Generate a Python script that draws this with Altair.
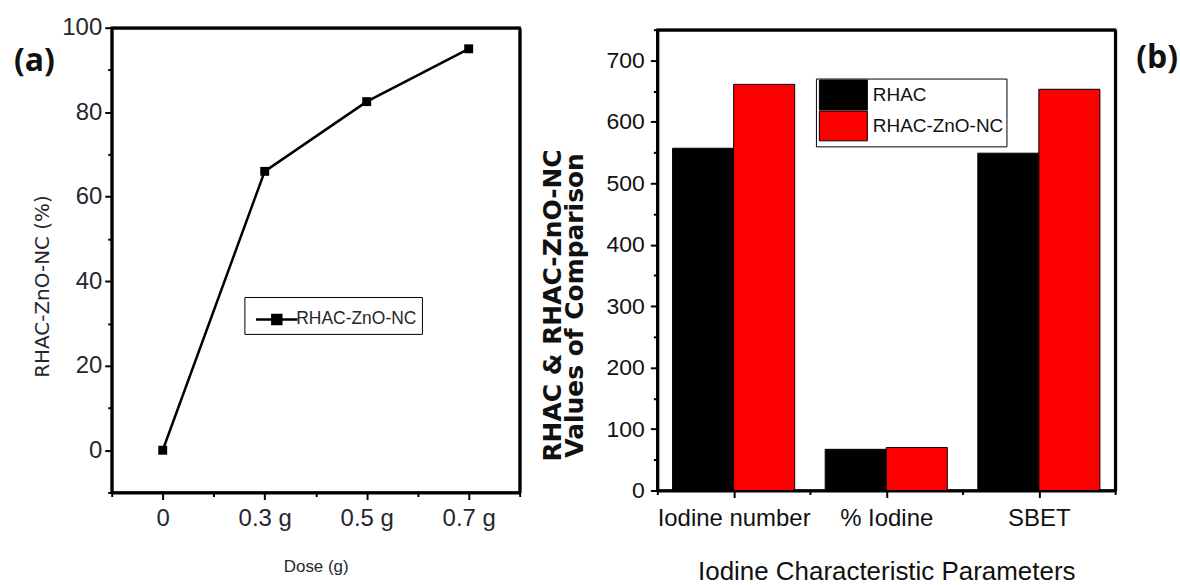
import altair as alt
import pandas as pd

# ---------------- data ----------------
dose_labels = ["0", "0.3 g", "0.5 g", "0.7 g"]
removal = [0, 66, 82.5, 95]
series_a = "RHAC-ZnO-NC"

params = ["Iodine number", "% Iodine", "SBET"]
series_names = ["RHAC", "RHAC-ZnO-NC"]
rhac = [557, 67, 549]
rhac_zno = [661, 70, 653]

FONT = "Liberation Sans, Arial, sans-serif"
TXT = "#26262e"
FRAME = alt.ViewBackground(stroke="black", strokeWidth=2.5)

df_a = pd.DataFrame({
    "idx": list(range(len(dose_labels))),
    "dose": dose_labels,
    "removal": removal,
    "series": [series_a] * len(dose_labels),
})

rows = []
for i, p in enumerate(params):
    for j, (s, vals) in enumerate(zip(series_names, [rhac, rhac_zno])):
        rows.append({"idx": i, "param": p, "sidx": j, "series": s, "value": vals[i]})
df_b = pd.DataFrame(rows)

arr_a = "[" + ",".join("'" + d + "'" for d in dose_labels) + "]"
arr_b = "[" + ",".join("'" + p + "'" for p in params) + "]"

minor_x = {"condition": {"test": "datum.value % 1 !== 0", "value": 4}, "value": 7}
minor_a_y = {"condition": {"test": "datum.value % 20 !== 0", "value": 4}, "value": 7}
minor_b_y = {"condition": {"test": "datum.value % 100 !== 0", "value": 4}, "value": 7}


def frame_axis(orient):
    return alt.Axis(orient=orient, labels=False, ticks=False, title=None, grid=False,
                    domain=True, domainColor="black", domainWidth=3)


# ---------------- panel (a) ----------------
scale_xa = alt.Scale(domain=[-0.5, 3.5], nice=False, zero=False)
scale_ya = alt.Scale(domain=[-10, 100], nice=False, zero=False)
xa = alt.X(
    "idx:Q", scale=scale_xa,
    axis=alt.Axis(
        values=[-0.5, 0, 0.5, 1, 1.5, 2, 2.5, 3, 3.5],
        labelExpr=f"datum.value % 1 == 0 ? {arr_a}[datum.value] : ''",
        title="Dose (g)",
        titleFont=FONT, titleFontSize=17, titleFontWeight="normal", titleColor=TXT,
        titlePadding=28,
        labelFont=FONT, labelFontSize=24, labelColor=TXT, labelPadding=7,
        tickSize=minor_x, grid=False,
    ),
)
ya = alt.Y(
    "removal:Q", scale=scale_ya,
    axis=alt.Axis(
        values=list(range(-10, 101, 10)),
        labelExpr="datum.value % 20 == 0 ? datum.label : ''",
        title="RHAC-ZnO-NC (%)",
        titleFont="DejaVu Sans", titleFontSize=20, titleFontWeight="normal", titleColor=TXT,
        titleAngle=270, titleAlign="center", titleBaseline="middle",
        titleX=-69, titleY=259,
        labelFont=FONT, labelFontSize=24, labelColor=TXT, labelPadding=3,
        tickSize=minor_a_y, grid=False,
    ),
)

line_a = alt.Chart(df_a).mark_line(color="black", strokeWidth=2.5).encode(x=xa, y=ya)
pts_a = alt.Chart(df_a).mark_square(size=80, filled=True, opacity=1).encode(
    x=alt.X("idx:Q", scale=scale_xa, axis=None),
    y=alt.Y("removal:Q", scale=scale_ya, axis=None),
    color=alt.Color(
        "series:N",
        scale=alt.Scale(range=["black"]),
        legend=alt.Legend(
            title=None, orient="none", legendX=133, legendY=270,
            symbolType="M-1.3,0L1.3,0M-0.28,-0.28L0.28,-0.28L0.28,0.28L-0.28,0.28Z",
            symbolSize=1024, symbolStrokeColor="black", symbolStrokeWidth=2.5,
            symbolFillColor="black", symbolOpacity=1,
            labelFont=FONT, labelFontSize=17.5, labelColor=TXT, labelOffset=2,
            strokeColor="black", padding=5, symbolOffset=10,
        ),
    ),
)
frame_a = alt.Chart(df_a).mark_line(opacity=0).encode(
    x=alt.X("idx:Q", scale=scale_xa, axis=frame_axis("top")),
    y=alt.Y("removal:Q", scale=scale_ya, axis=frame_axis("right")),
)
chart_a = alt.layer(line_a, pts_a, frame_a).resolve_axis(
    x="independent", y="independent"
).properties(
    width=409, height=466, view=FRAME,
    title=alt.TitleParams("(a)", anchor="start", frame="group", dx=-98, dy=77, fontSize=32,
                          fontWeight="bold", font="Open Sans", color="#111",
                          baseline="middle", offset=0),
)

# ---------------- panel (b) ----------------
scale_xb = alt.Scale(domain=[-0.5, 2.5], nice=False, zero=False)
scale_yb = alt.Scale(domain=[0, 750], nice=False)
xb_axis = alt.Axis(
    values=[-0.5, 0, 0.5, 1, 1.5, 2, 2.5],
    labelExpr=f"datum.value % 1 == 0 ? {arr_b}[datum.value] : ''",
    title="Iodine Characteristic Parameters",
    titleFont=FONT, titleFontSize=26, titleFontWeight="normal", titleColor="#111",
    titlePadding=28,
    labelFont=FONT, labelFontSize=24, labelColor="#111", labelPadding=9,
    tickSize=minor_x, grid=False,
)
yb_axis = alt.Axis(
    values=list(range(0, 751, 50)),
    labelExpr="datum.value % 100 == 0 ? datum.label : ''",
    title=["RHAC & RHAC-ZnO-NC", "Values of Comparison"],
    titleFont="DejaVu Sans", titleFontSize=25, titleFontWeight="bold", titleColor="#111",
    titleLineHeight=22,
    titleAngle=270, titleAlign="center", titleBaseline="middle",
    titleX=-105, titleY=276,
    labelFont=FONT, labelFontSize=23, labelColor="#111", labelPadding=6,
    tickSize=minor_b_y, grid=False,
)

base_b = alt.Chart(df_b).transform_calculate(
    x0="datum.idx - 0.4 + 0.4 * datum.sidx",
    x1="datum.idx + 0.4 * datum.sidx",
)
bars_b = base_b.mark_rect(stroke="black", strokeWidth=1).encode(
    x=alt.X("x0:Q", scale=scale_xb, axis=xb_axis),
    x2="x1:Q",
    y=alt.Y("value:Q", scale=scale_yb, axis=yb_axis),
    y2=alt.Y2Datum(0),
    color=alt.Color(
        "series:N",
        sort=series_names,
        scale=alt.Scale(domain=series_names, range=["#000000", "#ff0000"]),
        legend=alt.Legend(
            title=None, orient="none", legendX=159, legendY=49,
            symbolType="M-1.85,-1.15L1.85,-1.15L1.85,1.15L-1.85,1.15Z",
            symbolSize=676, symbolStrokeColor="black", symbolStrokeWidth=1,
            symbolOpacity=1, rowPadding=-5,
            labelFont=FONT, labelFontSize=19, labelColor="#111", labelOffset=16,
            strokeColor="black", padding=3, symbolOffset=11,
        ),
    ),
)
frame_b = base_b.mark_rect(opacity=0).encode(
    x=alt.X("x0:Q", scale=scale_xb, axis=frame_axis("top")),
    x2="x1:Q",
    y=alt.Y("value:Q", scale=scale_yb, axis=frame_axis("right")),
    y2=alt.Y2Datum(0),
)
chart_b = alt.layer(bars_b, frame_b).resolve_axis(
    x="independent", y="independent"
).properties(
    width=459, height=462, view=FRAME,
    title=alt.TitleParams("(b)", anchor="end", frame="group", dx=63, dy=61, fontSize=32,
                          fontWeight="bold", font="Open Sans", color="#111",
                          baseline="middle", offset=0),
)

chart = alt.hconcat(
    chart_a, chart_b, spacing=138, bounds="flush", center=True
).resolve_scale(
    color="independent"
).resolve_legend(
    color="independent"
).properties(
    padding={"left": 12, "top": 13, "right": 0, "bottom": 0},
    background="white",
).configure_view(
    stroke="black", strokeWidth=2.5
).configure_axis(
    domainColor="black", domainWidth=3, tickColor="black", tickWidth=2,
)

chart.save("out.html", embed_options={"renderer": "svg", "actions": False})
